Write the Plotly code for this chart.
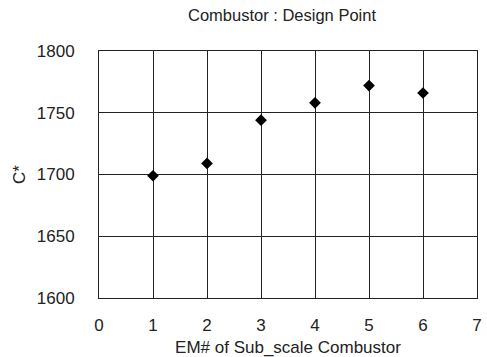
import plotly.graph_objects as go

em_numbers = [1, 2, 3, 4, 5, 6]
c_star = [1699, 1709, 1744, 1758, 1772, 1766]
x_ticks = [0, 1, 2, 3, 4, 5, 6, 7]
y_ticks = [1600, 1650, 1700, 1750, 1800]

FONT = "Liberation Sans, Arial, sans-serif"

fig = go.Figure(
    go.Scatter(
        x=em_numbers,
        y=c_star,
        mode="markers",
        marker=dict(symbol="diamond", size=9, color="black"),
        showlegend=False,
    )
)

fig.update_layout(
    width=487,
    height=357,
    margin=dict(l=99, r=10, t=51, b=59),
    paper_bgcolor="white",
    plot_bgcolor="white",
    font=dict(family=FONT, size=17, color="#222"),
    title=dict(
        text="Combustor : Design Point",
        x=282 / 487,
        xanchor="center",
        y=1 - 15 / 357,
        yanchor="middle",
        font=dict(family=FONT, size=16.5, color="#222"),
    ),
)

fig.update_xaxes(
    range=[0, 7],
    tickvals=x_ticks,
    ticks="",
    showgrid=True,
    gridcolor="#222",
    gridwidth=1,
    showline=True,
    linecolor="#222",
    linewidth=1,
    mirror=True,
    zeroline=False,
    automargin=False,
    ticklabelstandoff=12,
    title=dict(text="EM# of Sub_scale Combustor", standoff=6, font=dict(size=17)),
)

fig.update_yaxes(
    range=[1600, 1800],
    tickvals=y_ticks,
    ticks="",
    showgrid=True,
    gridcolor="#222",
    gridwidth=1,
    showline=True,
    linecolor="#222",
    linewidth=1,
    mirror=True,
    zeroline=False,
    automargin=False,
    ticklabelstandoff=20,
    title=dict(text="C*", standoff=6, font=dict(size=17)),
)

fig.write_html(
    "out.html",
    config={"displayModeBar": False},
    post_script="document.body.style.margin='0';document.body.style.overflow='hidden';",
)
